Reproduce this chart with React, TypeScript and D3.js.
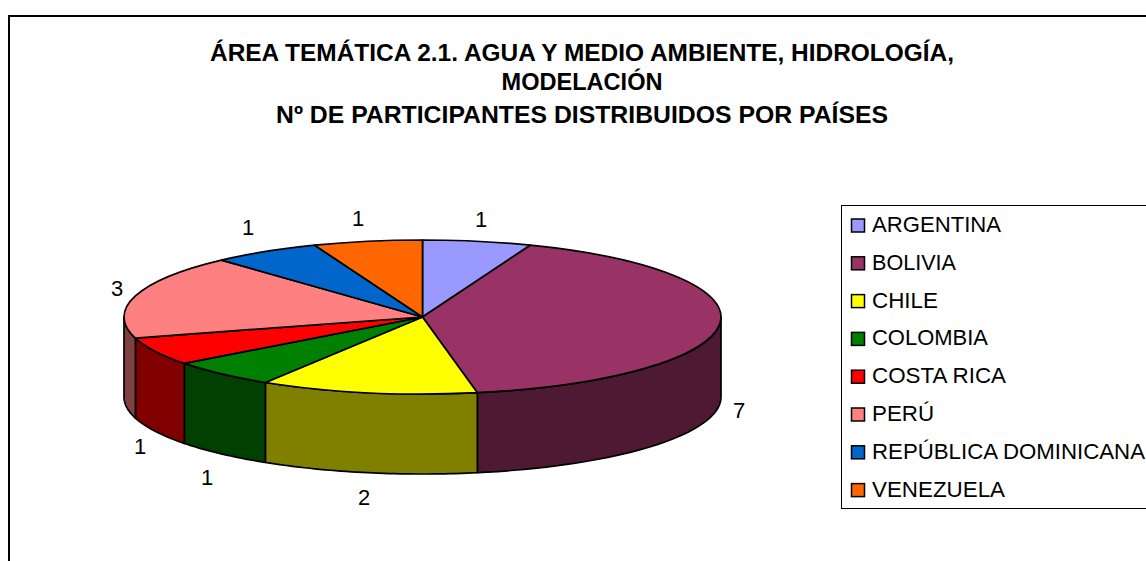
import { useMemo } from "react";
import * as d3 from "d3";

const titleLines = [
  "ÁREA TEMÁTICA 2.1. AGUA Y MEDIO AMBIENTE, HIDROLOGÍA,",
  "MODELACIÓN",
  "Nº DE PARTICIPANTES DISTRIBUIDOS POR PAÍSES",
];
const countries = ["ARGENTINA", "BOLIVIA", "CHILE", "COLOMBIA", "COSTA RICA", "PERÚ", "REPÚBLICA DOMINICANA", "VENEZUELA"];
const participants = [1, 7, 2, 1, 1, 3, 1, 1];
const topColors = ["#9999ff", "#993366", "#ffff00", "#008000", "#ff0000", "#ff8080", "#0066cc", "#ff6600"];
const sideColors = ["#4d4d80", "#4d1933", "#808000", "#004000", "#800000", "#804040", "#003366", "#803300"];

const width = 1146;
const height = 561;
const cx = 422.5;
const cy = 317;
const rx = 298.5;
const ry = 77;
const depth = 80;

// label spots by hand, excel puts them around the pie
const labelPos = [
  [481, 227], [739, 418], [364, 505], [207, 485], [140, 454], [117, 296], [248, 235], [358, 226],
];
const titleY = [61, 90, 123];
const titleWidths = [744, 161, 612];
const legendWidths = [129, 84, 66, 116, 134, 62, 273, 133];

export default function App() {
  const slices = useMemo(
    () => d3.pie<number>().sort(null).value((d) => d)(participants),
    []
  );
  const arc = d3.arc<d3.PieArcDatum<number>>().innerRadius(0).outerRadius(rx);
  const edge = d3.line<number>()
    .x((a) => cx + rx * Math.sin(a))
    .y((a) => cy - ry * Math.cos(a));

  // front wall of a slice, only the part between 90 and 270 degrees shows
  const wall = (s: d3.PieArcDatum<number>) => {
    const a0 = Math.max(s.startAngle, Math.PI / 2);
    const a1 = Math.min(s.endAngle, (3 * Math.PI) / 2);
    if (a1 <= a0) return null;
    const angles = d3.range(0, 41).map((i) => a0 + ((a1 - a0) * i) / 40);
    const top = edge(angles)!;
    const bottom = d3.line<number>()
      .x((a) => cx + rx * Math.sin(a))
      .y((a) => cy + depth - ry * Math.cos(a))(angles.slice().reverse())!;
    return top + "L" + bottom.slice(1) + "Z";
  };

  return (
    <svg
      width={width}
      height={height}
      style={{ position: "absolute", left: 0, top: 0, fontFamily: "'Liberation Sans', Arial, sans-serif" }}
    >
      <rect x={0} y={0} width={width} height={height} fill="#fff" />
      <rect x={9} y={16} width={width + 20} height={height + 20} fill="#fff" stroke="#000" strokeWidth={2} />

      {titleLines.map((t, i) => (
        <text
          key={t}
          x={582}
          y={titleY[i]}
          textAnchor="middle"
          fontSize={24.4}
          fontWeight="bold"
          fill="#000"
          textLength={titleWidths[i]}
          lengthAdjust="spacingAndGlyphs"
        >
          {t}
        </text>
      ))}

      {slices.map((s, i) => {
        const d = wall(s);
        return d ? <path key={i} d={d} fill={sideColors[i]} stroke="#000" strokeWidth={1.7} strokeLinejoin="round" /> : null;
      })}
      <g transform={`translate(${cx},${cy}) scale(1,${ry / rx})`}>
        {slices.map((s, i) => (
          <path
            key={i}
            d={arc(s)!}
            fill={topColors[i]}
            stroke="#000"
            strokeWidth={1.7}
            strokeLinejoin="round"
            vectorEffect="non-scaling-stroke"
          />
        ))}
      </g>

      {participants.map((v, i) => (
        <text key={i} x={labelPos[i][0]} y={labelPos[i][1]} textAnchor="middle" fontSize={22} fill="#000">
          {v}
        </text>
      ))}

      <rect x={841.5} y={205.5} width={width} height={303} fill="#fff" stroke="#000" strokeWidth={1} />
      {countries.map((c, i) => (
        <g key={c} transform={`translate(0,${225.5 + i * 37.8})`}>
          <rect x={851.5} y={-6.5} width={13} height={13} fill={topColors[i]} stroke="#000" strokeWidth={1.5} />
          <text x={872} y={6.5} fontSize={22} fill="#000" textLength={legendWidths[i]} lengthAdjust="spacingAndGlyphs">
            {c}
          </text>
        </g>
      ))}
    </svg>
  );
}
